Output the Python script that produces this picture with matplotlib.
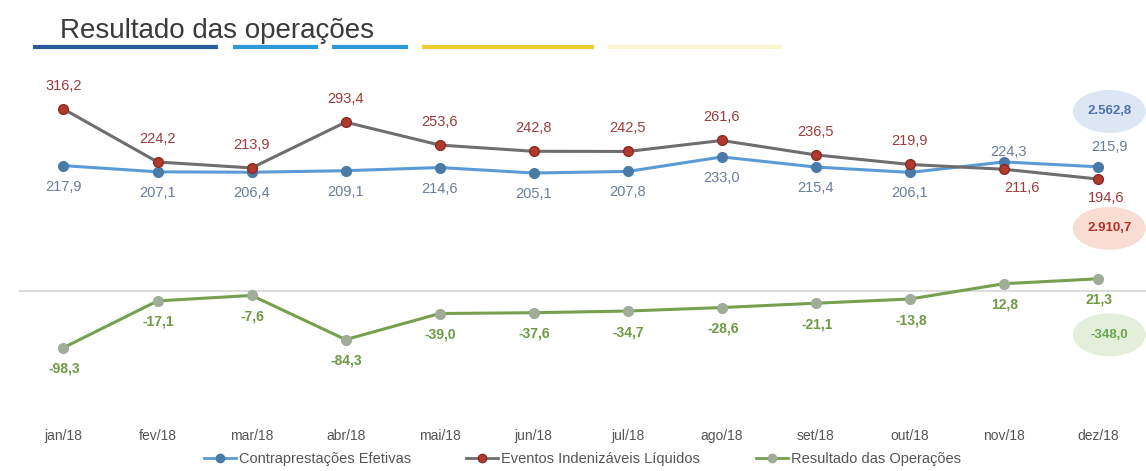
import matplotlib.pyplot as plt
from matplotlib.patches import Ellipse
from matplotlib.lines import Line2D

meses = ["jan/18", "fev/18", "mar/18", "abr/18", "mai/18", "jun/18",
         "jul/18", "ago/18", "set/18", "out/18", "nov/18", "dez/18"]
contraprestacoes = [217.9, 207.1, 206.4, 209.1, 214.6, 205.1,
                    207.8, 233.0, 215.4, 206.1, 224.3, 215.9]
eventos = [316.2, 224.2, 213.9, 293.4, 253.6, 242.8,
           242.5, 261.6, 236.5, 219.9, 211.6, 194.6]
resultado = [-98.3, -17.1, -7.6, -84.3, -39.0, -37.6,
             -34.7, -28.6, -21.1, -13.8, 12.8, 21.3]
totais = ["2.562,8", "2.910,7", "-348,0"]

plt.rcParams["font.family"] = ["Liberation Sans", "DejaVu Sans"]


def fmt(v):
    return f"{v:.1f}".replace(".", ",")


fig = plt.figure(figsize=(11.46, 4.71), dpi=100)
ax = fig.add_axes([0.017, 0.1295, 0.983, 0.7215])
x = list(range(len(meses)))

azul = "#5b9bd5"
vermelho = "#b03a2e"
verde = "#76a04e"

ax.axhline(0, color="#dcdcdc", lw=1.5, zorder=1)
ax.plot(x, contraprestacoes, color=azul, lw=2.2, marker="o", ms=7,
        mfc="#4a7aa8", mec="#4a7aa8", zorder=3)
ax.plot(x, eventos, color="#6e6e6e", lw=2.2, marker="o", ms=7,
        mfc=vermelho, mec="#8c2a22", zorder=4)
ax.plot(x, resultado, color=verde, lw=2.2, marker="o", ms=7,
        mfc="#a0ab98", mec="#a0ab98", zorder=3)

for i, v in enumerate(contraprestacoes):
    if i >= 10:
        dy, dx = (10 if i == 10 else 20), 5 if i == 10 else 11
    else:
        dy, dx = -21, 0
    ax.annotate(fmt(v), (i, v), xytext=(dx, dy), textcoords="offset pixels",
                ha="center", va="center", fontsize=10.5, color="#6a7d9b")

for i, v in enumerate(eventos):
    if i >= 10:
        dy, dx = -19, (18 if i == 10 else 8)
    else:
        dy, dx = 23, 0
    ax.annotate(fmt(v), (i, v), xytext=(dx, dy), textcoords="offset pixels",
                ha="center", va="center", fontsize=10.5, color="#9e3b3b")

for i, v in enumerate(resultado):
    ax.annotate(fmt(v), (i, v), xytext=(1, -21), textcoords="offset pixels",
                ha="center", va="center", fontsize=10, color="#6d9a43",
                fontweight="bold")

cores_elipse = [("#dde7f3", "#4f72aa", 312), ("#f9ddd2", "#b0302a", 109),
                ("#e3eedb", "#6aa84f", -76)]
for (fundo, cor, yv), txt in zip(cores_elipse, totais):
    ax.add_patch(Ellipse((11.12, yv), 0.76, 72, color=fundo, zorder=2))
    ax.text(11.12, yv, txt, ha="center", va="center", fontsize=9.5,
            color=cor, fontweight="bold", zorder=5)

ax.set_xlim(-0.468, 11.51)
ax.set_ylim(-206.6, 383.7)
ax.set_xticks(x)
ax.set_xticklabels(meses, fontsize=10, color="#555555")
ax.tick_params(axis="x", length=0, pad=14)
ax.set_yticks([])
for s in ax.spines.values():
    s.set_visible(False)

handles = [
    Line2D([], [], color=azul, lw=2, marker="o", ms=6, mfc="#4a7aa8", mec="#4a7aa8"),
    Line2D([], [], color="#6e6e6e", lw=2, marker="o", ms=6, mfc=vermelho, mec="#8c2a22"),
    Line2D([], [], color=verde, lw=2, marker="o", ms=6, mfc="#a0ab98", mec="#a0ab98"),
]
fig.legend(handles, ["Contraprestações Efetivas", "Eventos Indenizáveis Líquidos",
                     "Resultado das Operações"],
           loc="center", bbox_to_anchor=(0.508, 0.025), ncol=3, frameon=False,
           fontsize=10.5, handlelength=2.2, handletextpad=0.2, columnspacing=3.8,
           labelcolor="#555555")

fig.text(0.052, 0.935, "Resultado das operações", fontsize=20, color="#3a3a3a",
         ha="left", va="center")
barras = [(33, 218, "#2a5b9c"), (233, 318, "#2d9ad8"), (332, 408, "#2d9ad8"),
          (422, 594, "#f2cc30"), (608, 782, "#fbf5cf")]
for x0, x1, c in barras:
    fig.add_artist(Line2D([x0 / 1146, x1 / 1146], [1 - 47 / 471] * 2,
                          color=c, lw=3, solid_capstyle="butt"))

fig.savefig("out.png", dpi=100)
